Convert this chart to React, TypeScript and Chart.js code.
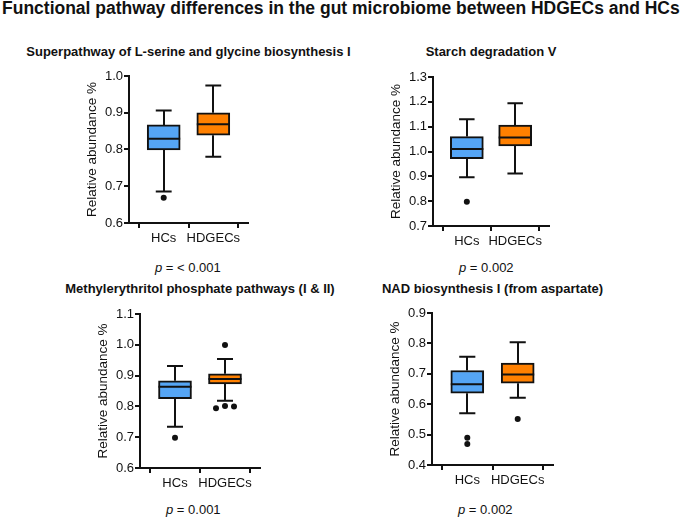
import React, { useEffect, useRef } from 'react';
import { Chart, registerables } from 'chart.js';

Chart.register(...registerables);

const FONT = '"Liberation Sans", Arial, Helvetica, sans-serif';
const INK = '#111111';
const BLUE = '#55a5f5';
const ORANGE = '#ff8000';

const mainTitle = 'Functional pathway differences in the gut microbiome between HDGECs and HCs';
const groups = ['HCs', 'HDGECs'];
const groupColors = [BLUE, ORANGE];
const yAxisTitle = 'Relative abundance %';

// Superpathway of L-serine and glycine biosynthesis I
const serineTitle = 'Superpathway of L-serine and glycine biosynthesis I';
const serineP = '< 0.001';
const serineLow = [0.686, 0.780];
const serineQ1 = [0.799, 0.839];
const serineMedian = [0.829, 0.869];
const serineQ3 = [0.867, 0.900];
const serineHigh = [0.906, 0.974];
const serineOutlierGroup = [0];
const serineOutlierShift = [0];
const serineOutlierValue = [0.669];
const serineYTicks = [0.6, 0.7, 0.8, 0.9, 1.0];

// Starch degradation V
const starchTitle = 'Starch degradation V';
const starchP = '0.002';
const starchLow = [0.896, 0.911];
const starchQ1 = [0.971, 1.022];
const starchMedian = [1.010, 1.056];
const starchQ3 = [1.060, 1.106];
const starchHigh = [1.130, 1.194];
const starchOutlierGroup = [0];
const starchOutlierShift = [0];
const starchOutlierValue = [0.798];
const starchYTicks = [0.7, 0.8, 0.9, 1.0, 1.1, 1.2, 1.3];

// Methylerythritol phosphate pathways (I & II)
const mepTitle = 'Methylerythritol phosphate pathways (I & II)';
const mepP = '0.001';
const mepLow = [0.734, 0.818];
const mepQ1 = [0.825, 0.873];
const mepMedian = [0.864, 0.889];
const mepQ3 = [0.883, 0.906];
const mepHigh = [0.931, 0.954];
const mepOutlierGroup = [0, 1, 1, 1, 1];
const mepOutlierShift = [0, 0, -0.18, 0, 0.18];
const mepOutlierValue = [0.698, 0.999, 0.794, 0.801, 0.800];
const mepYTicks = [0.6, 0.7, 0.8, 0.9, 1.0, 1.1];

// NAD biosynthesis I (from aspartate)
const nadTitle = 'NAD biosynthesis I (from aspartate)';
const nadP = '0.002';
const nadLow = [0.570, 0.621];
const nadQ1 = [0.636, 0.669];
const nadMedian = [0.666, 0.698];
const nadQ3 = [0.711, 0.735];
const nadHigh = [0.756, 0.804];
const nadOutlierGroup = [0, 0, 1];
const nadOutlierShift = [0, 0, 0];
const nadOutlierValue = [0.490, 0.469, 0.551];
const nadYTicks = [0.4, 0.5, 0.6, 0.7, 0.8, 0.9];

type Area = { l: number; r: number; t: number; b: number };

type PanelSpec = {
  title: string;
  p: string;
  low: number[];
  q1: number[];
  median: number[];
  q3: number[];
  high: number[];
  outGroup: number[];
  outShift: number[];
  outValue: number[];
  yTicks: number[];
  area: Area;
  titleTop: number;
  pTop: number;
};

const panels: PanelSpec[] = [
  {
    title: serineTitle, p: serineP, low: serineLow, q1: serineQ1, median: serineMedian, q3: serineQ3, high: serineHigh,
    outGroup: serineOutlierGroup, outShift: serineOutlierShift, outValue: serineOutlierValue, yTicks: serineYTicks,
    area: { l: 129, r: 248, t: 76, b: 223 }, titleTop: 44.5, pTop: 260.5,
  },
  {
    title: starchTitle, p: starchP, low: starchLow, q1: starchQ1, median: starchMedian, q3: starchQ3, high: starchHigh,
    outGroup: starchOutlierGroup, outShift: starchOutlierShift, outValue: starchOutlierValue, yTicks: starchYTicks,
    area: { l: 433, r: 549, t: 77, b: 226 }, titleTop: 44.5, pTop: 260.5,
  },
  {
    title: mepTitle, p: mepP, low: mepLow, q1: mepQ1, median: mepMedian, q3: mepQ3, high: mepHigh,
    outGroup: mepOutlierGroup, outShift: mepOutlierShift, outValue: mepOutlierValue, yTicks: mepYTicks,
    area: { l: 140, r: 260, t: 314, b: 468 }, titleTop: 281.5, pTop: 502.5,
  },
  {
    title: nadTitle, p: nadP, low: nadLow, q1: nadQ1, median: nadMedian, q3: nadQ3, high: nadHigh,
    outGroup: nadOutlierGroup, outShift: nadOutlierShift, outValue: nadOutlierValue, yTicks: nadYTicks,
    area: { l: 432, r: 553, t: 313, b: 465 }, titleTop: 281.5, pTop: 502.5,
  },
];

const Y_AXIS_W = 70;
const X_AXIS_H = 30;
const PAD_T = 12;
const PAD_R = 10;

const boxPlugin = {
  id: 'boxWhiskers',
  beforeDatasetsDraw(chart: any, _args: any, opts: any) {
    const { ctx, scales } = chart;
    const x = scales.x;
    const y = scales.y;
    ctx.save();
    ctx.strokeStyle = INK;
    ctx.lineWidth = 2;
    ctx.lineCap = 'butt';
    for (let i = 0; i < opts.low.length; i++) {
      const cx = Math.round(x.getPixelForValue(i));
      const capL = x.getPixelForValue(i - opts.capHalf);
      const capR = x.getPixelForValue(i + opts.capHalf);
      const yLow = y.getPixelForValue(opts.low[i]);
      const yQ1 = y.getPixelForValue(opts.q1[i]);
      const yQ3 = y.getPixelForValue(opts.q3[i]);
      const yHigh = y.getPixelForValue(opts.high[i]);
      ctx.beginPath();
      ctx.moveTo(cx, yLow);
      ctx.lineTo(cx, yQ1);
      ctx.moveTo(cx, yQ3);
      ctx.lineTo(cx, yHigh);
      ctx.moveTo(capL, yLow);
      ctx.lineTo(capR, yLow);
      ctx.moveTo(capL, yHigh);
      ctx.lineTo(capR, yHigh);
      ctx.stroke();
    }
    ctx.restore();
  },
  afterDatasetsDraw(chart: any, _args: any, opts: any) {
    const { ctx, scales } = chart;
    const y = scales.y;
    const meta = chart.getDatasetMeta(0);
    ctx.save();
    ctx.strokeStyle = INK;
    ctx.lineWidth = 2;
    meta.data.forEach((el: any, i: number) => {
      const { x: bx, width } = el.getProps(['x', 'width'], true);
      const ym = y.getPixelForValue(opts.median[i]);
      ctx.beginPath();
      ctx.moveTo(bx - width / 2, ym);
      ctx.lineTo(bx + width / 2, ym);
      ctx.stroke();
    });
    ctx.restore();
  },
};

function Panel({ spec }: { spec: PanelSpec }) {
  const ref = useRef<HTMLCanvasElement>(null);
  const { area } = spec;
  const w = area.r - area.l + Y_AXIS_W + PAD_R;
  const h = area.b - area.t + PAD_T + X_AXIS_H;

  useEffect(() => {
    const axisGrid = {
      drawOnChartArea: false,
      drawTicks: true,
      tickLength: 5,
      tickWidth: 2,
      tickColor: INK,
      lineWidth: 2,
      color: INK,
    };
    const chart = new Chart(ref.current as HTMLCanvasElement, {
      type: 'bar',
      data: {
        datasets: [
          {
            type: 'bar',
            data: groups.map((_, i) => ({ x: i, y: [spec.q1[i], spec.q3[i]] })) as any,
            backgroundColor: groupColors,
            borderColor: INK,
            borderWidth: 2,
            borderSkipped: false,
            barThickness: 33,
          } as any,
          {
            type: 'scatter',
            data: spec.outValue.map((v, k) => ({ x: spec.outGroup[k] + spec.outShift[k], y: v })),
            pointRadius: 3,
            pointBackgroundColor: INK,
            pointBorderWidth: 0,
            showLine: false,
          } as any,
        ],
      },
      options: {
        responsive: false,
        animation: false,
        events: [],
        layout: { padding: { left: 0, top: PAD_T, right: PAD_R, bottom: 0 } },
        plugins: {
          legend: { display: false },
          tooltip: { enabled: false },
          title: { display: false },
          boxWhiskers: {
            low: spec.low, q1: spec.q1, median: spec.median, q3: spec.q3, high: spec.high, capHalf: 0.16,
          },
        } as any,
        scales: {
          x: {
            type: 'linear',
            min: -0.7,
            max: 1.7,
            offset: false,
            afterBuildTicks: (s: any) => {
              s.ticks = groups.map((_, i) => ({ value: i }));
            },
            afterFit: (s: any) => {
              s.height = X_AXIS_H;
            },
            ticks: {
              callback: (v: any) => groups[v as number],
              font: { family: FONT, size: 13 },
              color: INK,
              padding: 3,
              maxRotation: 0,
              autoSkip: false,
            },
            grid: axisGrid,
            border: { display: true, color: INK, width: 2 },
          },
          y: {
            type: 'linear',
            min: spec.yTicks[0],
            max: spec.yTicks[spec.yTicks.length - 1],
            afterBuildTicks: (s: any) => {
              s.ticks = spec.yTicks.map((v) => ({ value: v }));
            },
            afterFit: (s: any) => {
              s.width = Y_AXIS_W;
            },
            ticks: {
              callback: (v: any) => Number(v).toFixed(1),
              font: { family: FONT, size: 13 },
              color: INK,
              padding: 1,
            },
            grid: axisGrid,
            border: { display: true, color: INK, width: 2 },
            title: {
              display: true,
              text: yAxisTitle,
              font: { family: FONT, size: 13.5 },
              color: INK,
              padding: { top: 25.5, bottom: 0 },
            },
          },
        } as any,
      },
      plugins: [boxPlugin as any],
    });
    return () => chart.destroy();
  }, []);

  return (
    <>
      <div
        style={{
          position: 'absolute',
          left: (area.l + area.r) / 2 - 250,
          width: 500,
          top: spec.titleTop,
          textAlign: 'center',
          fontWeight: 'bold',
          fontSize: 13,
          lineHeight: '13px',
          whiteSpace: 'nowrap',
        }}
      >
        {spec.title}
      </div>
      <canvas
        ref={ref}
        width={w}
        height={h}
        style={{ position: 'absolute', left: area.l - Y_AXIS_W, top: area.t - PAD_T, width: w, height: h }}
      />
      <div
        style={{
          position: 'absolute',
          left: area.l + 26,
          top: spec.pTop,
          fontSize: 13,
          lineHeight: '13px',
          whiteSpace: 'nowrap',
        }}
      >
        <i>p</i> = {spec.p}
      </div>
    </>
  );
}

export default function App() {
  return (
    <div
      style={{
        position: 'absolute',
        left: 0,
        top: 0,
        width: 680,
        height: 518,
        background: '#ffffff',
        fontFamily: FONT,
        color: INK,
        overflow: 'hidden',
      }}
    >
      <div
        style={{
          position: 'absolute',
          left: 2,
          top: 0,
          fontWeight: 'bold',
          fontSize: 17.5,
          lineHeight: '17.5px',
          whiteSpace: 'nowrap',
        }}
      >
        {mainTitle}
      </div>
      {panels.map((p, i) => (
        <Panel key={i} spec={p} />
      ))}
    </div>
  );
}
